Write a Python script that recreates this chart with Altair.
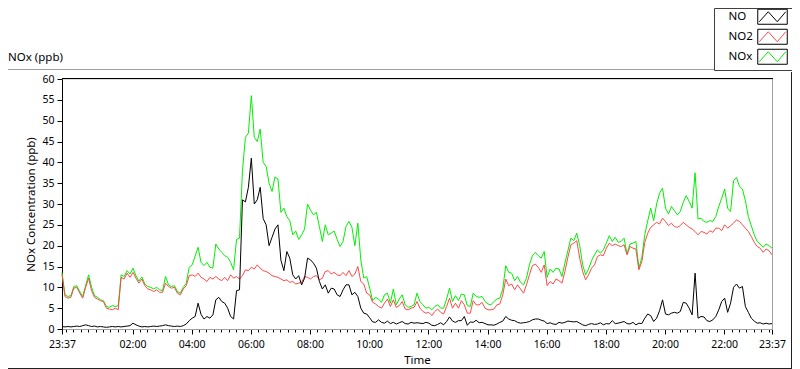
import altair as alt
import pandas as pd

# time axis: minutes after 23:37, one sample every 6 minutes over 24 h
minutes = list(range(0, 1441, 6))

no_vals = [
    0.6, 0.5, 0.6, 0.5, 0.6, 0.7, 0.6, 0.8, 1.0, 0.8,
    0.6, 0.7, 0.5, 0.6, 0.5, 0.4, 0.5, 0.6, 0.5, 0.6,
    0.5, 0.6, 0.7, 0.8, 1.4, 1.0, 0.7, 0.5, 0.6, 0.5,
    0.6, 0.7, 0.6, 0.7, 0.8, 1.0, 0.8, 0.7, 0.6, 0.7,
    0.6, 0.8, 1.2, 2.0, 2.6, 3.0, 6.2, 3.5, 2.4, 3.0,
    2.6, 3.4, 7.0, 7.6, 6.6, 6.2, 5.0, 3.0, 2.4, 9.2, 9.4,
    31, 30.5, 34, 41, 30, 31, 34, 26.5, 25, 20,
    22, 24, 25, 16.5, 14, 18.6, 17, 13, 12, 12.8,
    10.6, 12.2, 17, 16.6, 15.8, 14.6, 11.4, 9.6, 10.6, 8.6,
    9.8, 9.6, 8.2, 7.8, 9.4, 10.6, 10.6, 8.2, 8.8, 7.8,
    5.0, 3.8, 3.6, 2.7, 1.7, 1.6, 2.2, 1.6, 1.4, 1.9,
    1.3, 1.6, 1.2, 1.5, 1.8, 1.3, 1.2, 1.6, 1.4, 1.5,
    1.4, 1.3, 1.6, 1.4, 0.9, 0.8, 1.1, 1.5, 1.0, 1.8,
    2.9, 1.9, 1.6, 2.0, 2.0, 3.0, 0.9, 1.7, 1.6, 2.1,
    1.5, 1.6, 1.3, 1.0, 1.0, 0.9, 1.2, 1.6, 1.9, 3.0,
    2.4, 2.1, 2.0, 1.6, 1.4, 1.5, 1.6, 1.8, 2.2, 2.4,
    2.4, 2.1, 1.9, 1.3, 1.5, 1.2, 1.1, 1.6, 1.4, 1.6,
    1.9, 1.8, 1.7, 1.8, 1.4, 1.0, 0.8, 1.1, 1.3, 1.1,
    1.2, 1.5, 1.0, 1.3, 1.2, 2.0, 1.3, 1.4, 1.6, 1.8,
    1.3, 1.2, 1.6, 1.0, 1.4, 1.3, 2.6, 3.6, 3.2, 1.8,
    2.6, 4.4, 7.0, 3.6, 3.4, 3.8, 4.0, 3.8, 4.2, 6.4,
    6.2, 5.0, 3.4, 13.4, 2.6, 3.0, 2.9, 2.0, 1.8, 2.2,
    3.0, 4.6, 6.6, 7.4, 4.0, 6.2, 10.0, 10.8, 9.8, 10.2,
    5.4, 4.0, 2.6, 1.9, 1.4, 1.5, 1.2, 1.4, 1.2, 1.3,
]

no2_vals = [
    13.2, 7.8, 7.4, 7.6, 9.8, 10.0, 8.6, 7.4, 10.0, 12.2,
    9.2, 7.6, 7.2, 6.8, 6.6, 5.0, 4.8, 4.6, 5.0, 4.6,
    12.4, 12.0, 13.4, 12.4, 13.6, 12.2, 11.0, 12.0, 10.4, 9.6,
    9.4, 9.0, 9.4, 8.8, 8.8, 11.0, 10.2, 9.8, 10.0, 8.6,
    8.2, 9.6, 10.4, 12.8, 13.0, 12.6, 13.4, 12.4, 12.0, 11.4,
    12.4, 12.0, 12.6, 12.0, 11.6, 12.4, 11.6, 13.0, 12.2, 12.6, 12.0,
    12.8, 14.2, 14.0, 14.8, 14.4, 15.4, 14.6, 14.0, 13.8, 13.4,
    12.8, 12.6, 12.4, 12.0, 11.6, 11.8, 11.2, 11.4, 10.8, 11.0,
    11.2, 12.6, 12.4, 12.0, 12.6, 12.8, 11.8, 12.2, 13.8, 14.0,
    13.2, 13.6, 13.0, 12.8, 13.6, 12.8, 14.0, 12.6, 13.2, 15.0,
    11.4, 10.8, 8.6, 8.2, 6.4, 6.0, 5.4, 5.0, 6.2, 7.2,
    5.4, 7.0, 5.2, 5.6, 6.6, 4.8, 4.6, 5.0, 5.2, 6.6,
    5.0, 4.2, 3.8, 4.0, 3.2, 4.2, 4.8, 4.0, 3.6, 5.4,
    7.4, 5.0, 6.2, 5.0, 6.8, 5.8, 3.8, 3.8, 6.8, 5.8,
    5.8, 6.4, 5.0, 4.6, 4.6, 4.8, 5.8, 6.0, 8.2, 12.0,
    10.4, 10.8, 9.4, 10.6, 9.6, 8.6, 10.6, 13.0, 15.2, 15.6,
    14.8, 13.6, 15.4, 10.4, 11.4, 10.8, 12.0, 11.6, 11.0, 13.8,
    17.2, 20.2, 20.6, 21.2, 17.0, 13.8, 11.8, 13.0, 14.6, 15.4,
    17.4, 17.8, 17.6, 19.4, 20.6, 20.0, 20.4, 20.0, 19.8, 20.2,
    17.8, 19.8, 19.4, 19.2, 14.2, 16.2, 20.8, 23.0, 24.4, 25.0,
    25.6, 25.2, 26.6, 25.8, 24.8, 25.4, 24.6, 24.4, 24.8, 25.6,
    25.0, 24.4, 24.0, 23.4, 22.6, 23.4, 23.2, 22.8, 23.6, 23.2,
    24.2, 24.2, 23.6, 25.0, 24.2, 24.8, 25.4, 26.2, 25.8, 25.0,
    24.2, 23.4, 22.2, 20.8, 19.8, 19.4, 18.4, 19.2, 18.8, 17.8,
]

nox_vals = [
    13.6, 8.2, 7.8, 8.0, 10.2, 10.4, 9.0, 7.8, 10.5, 13.0,
    10.0, 8.0, 7.6, 7.0, 6.8, 5.4, 5.2, 5.6, 5.4, 5.6,
    13.0, 12.6, 14.0, 13.2, 14.6, 12.8, 11.5, 12.5, 10.8, 10.2,
    10.0, 9.6, 10.0, 9.4, 9.2, 12.6, 10.6, 10.2, 10.4, 9.0,
    8.6, 10.0, 11.0, 14.8, 15.4, 17.5, 19.6, 16.0, 15.2, 16.0,
    14.8, 14.6, 20.4, 19.2, 18.4, 17.6, 17.2, 16.0, 14.2, 21.5, 21.8,
    38, 46, 47, 56, 46, 45, 48, 40, 39, 35,
    33, 36.5, 36, 28, 29, 27, 26, 22.6, 23.5, 21.5,
    22.6, 24, 30, 28.5, 27.4, 28, 24.6, 21, 25, 22.6,
    23, 23.5, 21.5, 19.8, 21, 24.6, 25.8, 24.4, 20, 25.4,
    16.6, 12.2, 12.6, 9.8, 6.8, 7.6, 7.2, 6.4, 8.2, 8.6,
    6.2, 9.6, 5.8, 7.2, 8.2, 5.8, 5.2, 5.4, 5.8, 8.6,
    6.6, 5.8, 5.0, 5.2, 4.6, 5.4, 5.8, 5.0, 5.0, 7.2,
    9.8, 6.6, 8.0, 6.8, 8.4, 8.2, 5.6, 5.4, 8.6, 7.8,
    7.6, 7.8, 6.6, 6.0, 5.8, 6.6, 7.2, 7.4, 9.6, 15.2,
    13.6, 13.4, 11.6, 12.6, 11.2, 10.6, 12.2, 15.4, 17.6, 18.4,
    17.6, 17.0, 18.6, 12.4, 14.4, 13.6, 14.6, 14.4, 12.6, 15.8,
    18.8, 21.8, 21.2, 23.0, 20.0, 15.4, 13.0, 14.4, 16.4, 17.8,
    19.0, 18.2, 19.0, 20.6, 22.4, 21.0, 22.0, 20.8, 21.0, 21.8,
    18.0, 20.4, 20.6, 21.0, 14.6, 17.2, 22.6, 26.0, 29.0, 26.0,
    30.0, 32.6, 33.8, 29.0, 27.6, 29.4, 28.4, 27.4, 28.2, 30.4,
    32.0, 30.6, 29.0, 37.5, 26.4, 26.6, 25.8, 25.6, 26.0, 25.8,
    27.0, 29.4, 31.4, 33.6, 29.0, 28.2, 35.6, 36.4, 34.2, 33.6,
    30.8, 27.0, 24.8, 22.6, 21.0, 20.4, 19.6, 20.4, 20.0, 19.4,
]

series_names = ["NO", "NO2", "NOx"]
box_names = ["NO ", "NO2 ", "NOx "]
series_colors = ["#000000", "#ff4848", "#00f000"]
y_ticks = list(range(0, 61, 5))
x_ticks = [0] + list(range(8, 1440, 15)) + [1440]

rows = []
for name, bname, vals in zip(series_names, box_names, [no_vals, no2_vals, nox_vals]):
    for t, v in zip(minutes, vals):
        rows.append({"t": t, "v": v, "series": name, "box": bname})
df = pd.DataFrame(rows)

FONT = "Noto Sans"
W, H = 710, 250
MAJOR = ("datum.value == 0 || datum.value == 1440 || "
         "(datum.value >= 143 && (datum.value - 23) % 120 == 0)")

x_enc = alt.X(
    "t:Q",
    scale=alt.Scale(domain=[0, 1440], nice=False, zero=False),
    axis=alt.Axis(
        values=x_ticks,
        labelExpr=f"({MAJOR}) ? timeFormat(datetime(2000, 0, 1, 23, 37 + datum.value), '%H:%M') : ''",
        tickSize={"condition": {"test": MAJOR, "value": 5}, "value": 3},
        tickColor="black",
        domainColor="#a0a0a0",
        labelFont=FONT, labelFontSize=10.5, labelColor="black",
        labelPadding=5, labelFlush=False, labelOverlap=False,
        grid=False,
        title="Time", titleFont=FONT, titleFontSize=11.5,
        titleFontWeight="normal", titleColor="black",
        titleY=31, titleBaseline="middle",
    ),
)
y_enc = alt.Y(
    "v:Q",
    scale=alt.Scale(domain=[0, 60], nice=False, zero=True),
    axis=alt.Axis(
        values=y_ticks, tickSize=5, tickColor="black", domainColor="black",
        labelFont=FONT, labelFontSize=10.5, labelColor="black", labelPadding=3,
        grid=False,
        title="NOx Concentration (ppb)", titleFont=FONT, titleFontSize=11.5,
        titleFontWeight="normal", titleColor="black",
        titleX=-31, titleY=125, titleAngle=270, titleAlign="center",
        titleBaseline="middle",
    ),
)

ZIG = "M35,-7.5M64.5,7.5M36.5,5L45.5,-5L54.5,5L63,-5"
BOX = "M35,-7.5L64.5,-7.5L64.5,7.5L35,7.5Z"
leg_common = dict(
    orient="none", legendX=652, legendY=-71, title=None,
    symbolSize=4, symbolStrokeWidth=1, symbolFillColor="transparent",
    labelFont=FONT, labelFontSize=11.5, labelOffset=0,
    padding=3, rowPadding=0,
)
color_enc = alt.Color(
    "series:N",
    scale=alt.Scale(domain=series_names, range=series_colors),
    legend=alt.Legend(symbolType=ZIG, labelColor="black",
                      strokeColor="#404040", **leg_common),
)
box_enc = alt.Opacity(
    "box:N",
    scale=alt.Scale(domain=box_names, range=[1, 1, 1]),
    legend=alt.Legend(symbolType=BOX, symbolStrokeColor="#000000",
                      labelOpacity=0, **leg_common),
)

layers = []
for name in ["NOx", "NO2", "NO"]:
    layers.append(
        alt.Chart(df).transform_filter(alt.datum.series == name)
        .mark_line(strokeWidth=1)
        .encode(x=x_enc, y=y_enc, color=color_enc, opacity=box_enc)
    )

one = alt.Data(values=[{}])
decor = [
    # plot frame: top (black) and right (grey)
    alt.Chart(one).mark_rule(color="black", strokeWidth=1).encode(
        x=alt.value(0), x2=alt.value(W + 1), y=alt.value(-0.5)),
    alt.Chart(one).mark_rule(color="#a0a0a0", strokeWidth=1).encode(
        x=alt.value(W + 0.5), y=alt.value(0), y2=alt.value(H + 1)),
    # outer panel frame
    alt.Chart(one).mark_rule(color="#a0a0a0", strokeWidth=1).encode(
        x=alt.value(-62), x2=alt.value(652), y=alt.value(-9.5)),
    alt.Chart(one).mark_rule(color="#202020", strokeWidth=1).encode(
        x=alt.value(729.5), y=alt.value(-7), y2=alt.value(290)),
    alt.Chart(one).mark_rule(color="#202020", strokeWidth=1).encode(
        x=alt.value(-62), x2=alt.value(730), y=alt.value(289.5)),
]

chart = alt.layer(*layers, *decor).properties(
    width=W, height=H,
    autosize=alt.AutoSizeParams(type="none"),
    padding={"left": 54, "top": 71, "right": 20, "bottom": 40},
    title=alt.TitleParams(
        text="NOx (ppb)", anchor="start", orient="top", frame="group",
        font=FONT, fontSize=11.5, fontWeight="normal", color="black",
        dx=-54, dy=60, offset=4,
    ),
).configure_view(stroke=None).configure(background="white")

chart.save("out.html", embed_options={"renderer": "svg", "actions": False})
